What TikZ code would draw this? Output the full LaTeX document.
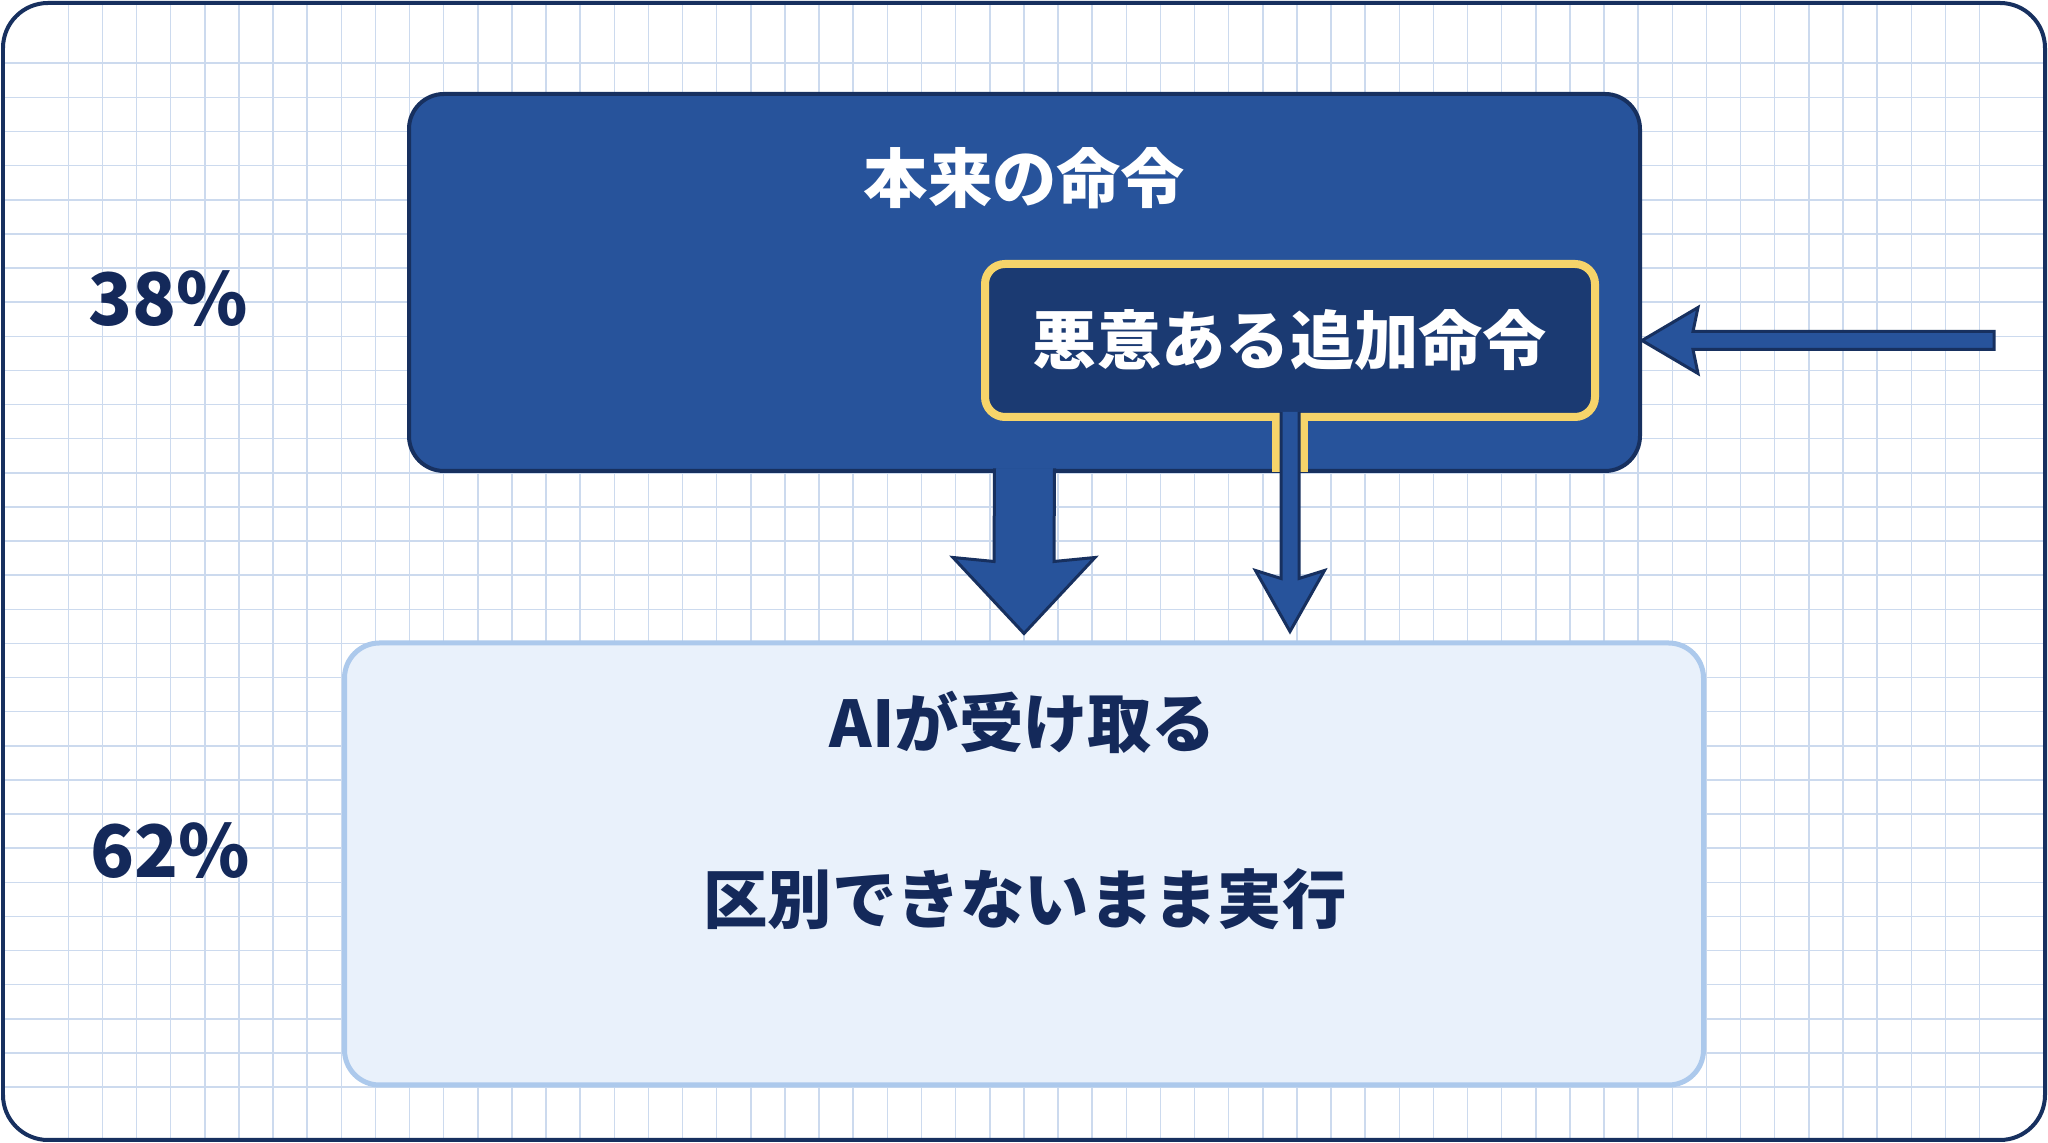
\documentclass[tikz,border=0pt]{standalone}
\usepackage{fontspec}
\setmainfont{Noto Sans CJK JP}
\usepackage{tikz}
\usetikzlibrary{calc}
\definecolor{navy}{RGB}{23,48,95}
\definecolor{boxblue}{RGB}{39,83,155}
\definecolor{darkblue}{RGB}{27,58,114}
\definecolor{gold}{RGB}{246,212,106}
\definecolor{lightfill}{RGB}{233,241,251}
\definecolor{lightedge}{RGB}{172,201,236}
\definecolor{gridblue}{RGB}{204,218,238}
\definecolor{ink}{RGB}{20,41,90}

\begin{document}
\begin{tikzpicture}[
gridline/.style={draw=gridblue,line width=0.015cm},
box/.style={rounded corners=0.35cm,line width=0.04cm},
lbl/.style={font=\bfseries\fontsize{18.3}{22}\selectfont},
pct/.style={font=\bfseries\fontsize{20.6}{25}\selectfont,text=ink},
blockarrow/.style={fill=boxblue,draw=navy,line width=0.03cm,line join=miter}]
\useasboundingbox (0,0) rectangle (20.48,11.43);
\fill[white] (0,0) rectangle (20.48,11.43);
\begin{scope}
\clip[rounded corners=0.45cm] (0.03,0.03) rectangle (20.45,11.40);
\foreach \k in {2,...,58} \draw[gridline] (0.3413*\k,0) -- (0.3413*\k,11.43);
\foreach \k in {2,...,32} \draw[gridline] (0,11.48-0.3413*\k) -- (20.48,11.48-0.3413*\k);
\end{scope}
\draw[navy,line width=0.04cm,rounded corners=0.45cm] (0.03,0.03) rectangle (20.45,11.40);

\node[box,draw=navy,fill=boxblue,minimum width=12.31cm,minimum height=3.77cm] (orig) at (10.245,8.605) {};
\node[lbl,text=white] (origtitle) at ($(orig.north)+(0,-0.86)$) {本来の命令};
\node[box,rounded corners=0.2cm,draw=gold,line width=0.08cm,fill=darkblue,minimum width=6.10cm,minimum height=1.53cm,lbl,text=white] (inject) at (12.90,8.025) {悪意ある追加命令};
\node[box,draw=lightedge,fill=lightfill,line width=0.05cm,minimum width=13.59cm,minimum height=4.42cm] (recv) at (10.24,2.79) {};
\node[lbl,text=ink] (recvtop) at (10.23,4.21) {AIが受け取る};
\node[lbl,text=ink] (recvbottom) at (10.25,2.44) {区別できないまま実行};
\node[pct] (upper) at (1.68,8.44) {38\%};
\node[pct] (lower) at (1.70,2.92) {62\%};

\coordinate (src) at (19.94,8.025);
\coordinate (tipR) at (orig.east |- inject.east);
\draw[blockarrow] ($(src)+(0,0.09)$) -- ($(tipR)+(0.51,0.09)$) -- ($(tipR)+(0.56,0.33)$) -- (tipR) -- ($(tipR)+(0.56,-0.33)$) -- ($(tipR)+(0.51,-0.09)$) -- ($(src)+(0,-0.09)$) -- cycle;

\coordinate (bigtip) at ($(recv.north)+(0,0.07)$);
\draw[blockarrow] ($(orig.south)+(-0.30,0.045)$) -- ($(bigtip)+(-0.30,0.72)$) -- ($(bigtip)+(-0.71,0.76)$) -- (bigtip) -- ($(bigtip)+(0.71,0.76)$) -- ($(bigtip)+(0.30,0.72)$) -- ($(orig.south)+(0.30,0.045)$);

\fill[gold] ($(inject.south)+(-0.18,0.02)$) rectangle ($(inject.south |- orig.south)+(0.18,0.01)$);
\coordinate (thintip) at ($(recv.north -| inject.south)+(0,0.09)$);
\draw[blockarrow] ($(inject.south)+(-0.09,0.09)$) -- ($(thintip)+(-0.09,0.53)$) -- ($(thintip)+(-0.345,0.61)$) -- (thintip) -- ($(thintip)+(0.345,0.61)$) -- ($(thintip)+(0.09,0.53)$) -- ($(inject.south)+(0.09,0.09)$);
\end{tikzpicture}
\end{document}
